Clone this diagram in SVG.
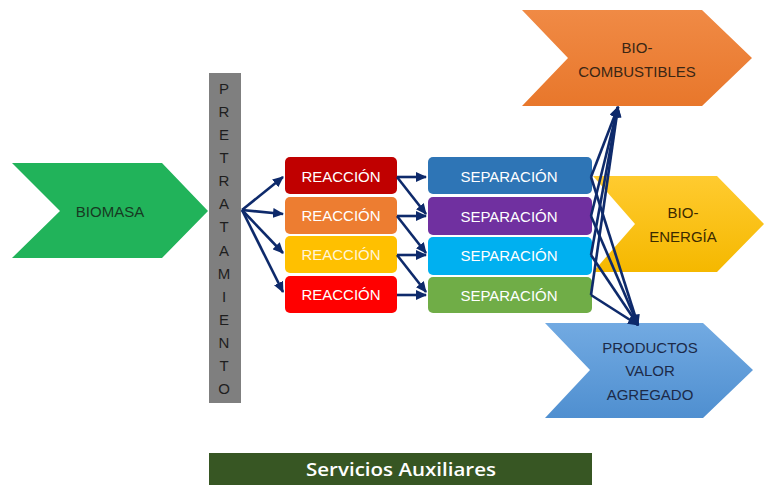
<svg xmlns="http://www.w3.org/2000/svg" width="764" height="485" viewBox="0 0 764 485">
<defs>
<style>
.t{font-family:"Liberation Sans",Arial,sans-serif;font-size:15px;text-anchor:middle;dominant-baseline:central}
.w{fill:#ffffff}
.c{fill:none;stroke:#0e2a6b;stroke-width:2.6;marker-end:url(#ah)}
.pl{font-family:"Liberation Sans",Arial,sans-serif;font-size:15px;text-anchor:middle;dominant-baseline:central;fill:#1e1e1e}
</style>
<marker id="ah" markerUnits="userSpaceOnUse" markerWidth="11" markerHeight="10" refX="10" refY="5" orient="auto">
<path d="M0,0 L11,5 L0,10 z" fill="#0e2a6b"/>
</marker>
<linearGradient id="gOr" x1="0" y1="0" x2="0" y2="1"><stop offset="0" stop-color="#f08a45"/><stop offset="1" stop-color="#e8772b"/></linearGradient>
<linearGradient id="gYe" x1="0" y1="0" x2="0" y2="1"><stop offset="0" stop-color="#ffcb30"/><stop offset="1" stop-color="#f5b800"/></linearGradient>
<linearGradient id="gBl" x1="0" y1="0" x2="0" y2="1"><stop offset="0" stop-color="#72aae2"/><stop offset="1" stop-color="#4f8fd0"/></linearGradient>
</defs>
<rect width="764" height="485" fill="#ffffff"/>

<g id="biomasa">
<polygon points="12,163 162,163 208,211 162,258 12,258 60,211" fill="#21b35a"/>
<text class="t" x="110" y="211" font-size="15.5" fill="#173a22">BIOMASA</text>
</g>

<g id="pretratamiento">
<rect x="209" y="73" width="32" height="330" fill="#7f7f7f"/>
<text class="pl" x="224" y="88">P</text>
<text class="pl" x="224" y="111">R</text>
<text class="pl" x="224" y="134">E</text>
<text class="pl" x="224" y="157">T</text>
<text class="pl" x="224" y="180">R</text>
<text class="pl" x="224" y="203">A</text>
<text class="pl" x="224" y="226">T</text>
<text class="pl" x="224" y="250">A</text>
<text class="pl" x="224" y="273">M</text>
<text class="pl" x="224" y="296">I</text>
<text class="pl" x="224" y="319">E</text>
<text class="pl" x="224" y="342">N</text>
<text class="pl" x="224" y="365">T</text>
<text class="pl" x="224" y="388">O</text>
</g>

<g id="reaccion1"><rect x="285" y="157" width="112" height="37" rx="5" fill="#c00000"/><text class="t w" x="341" y="176">REACCIÓN</text></g>
<g id="reaccion2"><rect x="285" y="197" width="112" height="37" rx="5" fill="#ed7d31"/><text class="t w" x="341" y="215">REACCIÓN</text></g>
<g id="reaccion3"><rect x="285" y="236" width="112" height="37" rx="5" fill="#ffc000"/><text class="t" x="341" y="254" fill="#fff6d8">REACCIÓN</text></g>
<g id="reaccion4"><rect x="285" y="276" width="112" height="37" rx="5" fill="#ff0000"/><text class="t w" x="341" y="294">REACCIÓN</text></g>

<g id="separacion1"><rect x="428" y="157" width="164" height="37" rx="5" fill="#2e75b6"/><text class="t w" x="509" y="176" font-size="14.5">SEPARACIÓN</text></g>
<g id="separacion2"><rect x="428" y="197" width="164" height="38" rx="5" fill="#7030a0"/><text class="t w" x="509" y="216" font-size="14.5">SEPARACIÓN</text></g>
<g id="separacion3"><rect x="428" y="237" width="164" height="38" rx="5" fill="#00b0f0"/><text class="t w" x="509" y="255" font-size="14.5">SEPARACIÓN</text></g>
<g id="separacion4"><rect x="428" y="277" width="164" height="36" rx="5" fill="#70ad47"/><text class="t w" x="509" y="295" font-size="14.5">SEPARACIÓN</text></g>

<g id="biocombustibles">
<polygon points="522,10 702,10 752,58 702,106 522,106 568,58" fill="url(#gOr)"/>
<text class="t" x="637" y="47" fill="#3a2614">BIO-</text>
<text class="t" x="637" y="71" fill="#3a2614">COMBUSTIBLES</text>
</g>

<g id="bioenergia">
<polygon points="593,176 717,176 764,224 717,272 593,272 635,224" fill="url(#gYe)"/>
<text class="t" x="683" y="212" fill="#3b2a00">BIO-</text>
<text class="t" x="683" y="236" fill="#3b2a00">ENERGÍA</text>
</g>

<g id="productos">
<polygon points="545,323 703,323 753,370 703,418 545,418 590,370" fill="url(#gBl)"/>
<text class="t" x="650" y="347" fill="#1c2a48">PRODUCTOS</text>
<text class="t" x="650" y="370" fill="#1c2a48">VALOR</text>
<text class="t" x="650" y="394" fill="#1c2a48">AGREGADO</text>
</g>

<g id="servicios">
<rect x="209" y="453" width="383" height="32" fill="#375623"/>
<text x="401" y="469" font-family="'Open Sans','Liberation Sans',sans-serif" font-size="18" font-weight="600" fill="#ffffff" text-anchor="middle" dominant-baseline="central" textLength="190" lengthAdjust="spacingAndGlyphs">Servicios Auxiliares</text>
</g>

<g id="connectors">
<path class="c" d="M242,210 L283,177"/>
<path class="c" d="M242,210 L283,214"/>
<path class="c" d="M242,210 L283,253"/>
<path class="c" d="M242,210 L283,292"/>
<path class="c" d="M397,177 L426,177"/>
<path class="c" d="M397,216 L426,216"/>
<path class="c" d="M397,255 L426,255"/>
<path class="c" d="M397,295 L426,295"/>
<path class="c" d="M397,177 L426,214"/>
<path class="c" d="M397,216 L426,253"/>
<path class="c" d="M397,255 L426,292"/>
<path class="c" d="M591,177 L618,107"/>
<path class="c" d="M591,216 L618,107"/>
<path class="c" d="M591,255 L618,107"/>
<path class="c" d="M591,295 L618,107"/>
<path class="c" d="M591,177 L638,325"/>
<path class="c" d="M591,216 L638,325"/>
<path class="c" d="M591,255 L638,325"/>
<path class="c" d="M591,295 L638,325"/>
</g>
</svg>
